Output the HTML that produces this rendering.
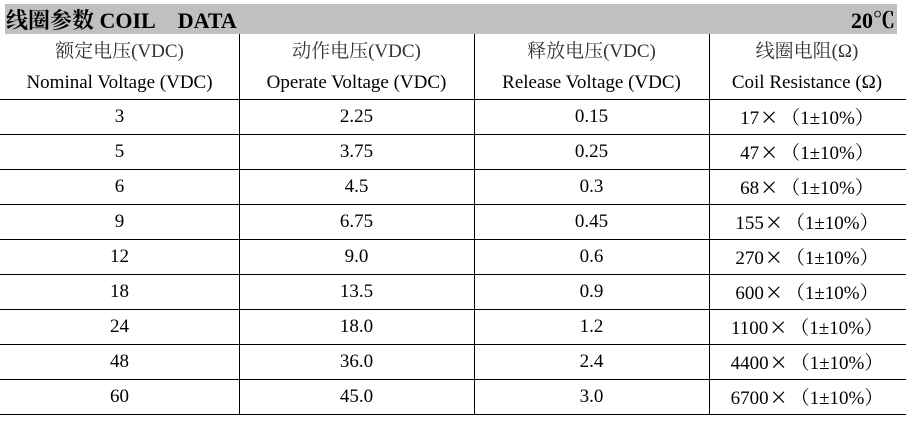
<!DOCTYPE html>
<html><head><meta charset="utf-8"><style>
body{margin:0;width:909px;height:424px;background:#fff;position:relative;overflow:hidden;font-family:"Liberation Serif","Noto Serif CJK SC",serif;color:#000}
.bar{position:absolute;left:5px;top:4px;width:892px;height:30px;background:#c0c0c0}
.t{position:absolute;font-weight:bold;font-size:22px;top:4px}
.h{position:absolute;height:1px;background:#000;left:0;width:906px}
.v{position:absolute;width:1px;background:#000;top:34px;height:380px}
.c{position:absolute;text-align:center;font-size:19px;line-height:20px}
.cn{color:#333}
.x{font-family:"Noto Sans CJK SC",sans-serif;font-size:18px;margin:0 3px 0 1px}
</style></head><body>
<div class="bar"></div>
<div class="t" style="left:6px">线圈参数 COIL&nbsp;&nbsp;&nbsp; DATA</div>
<div class="t" style="right:14px">20℃</div>
<div class="v" style="left:239px"></div>
<div class="v" style="left:474px"></div>
<div class="v" style="left:709px"></div>
<script>
const headersCn=["额定电压(VDC)","动作电压(VDC)","释放电压(VDC)","线圈电阻(Ω)"];
const headersEn=["Nominal Voltage (VDC)","Operate Voltage (VDC)","Release Voltage (VDC)","Coil Resistance (Ω)"];
const nominal=["3","5","6","9","12","18","24","48","60"];
const operate=["2.25","3.75","4.5","6.75","9.0","13.5","18.0","36.0","45.0"];
const release=["0.15","0.25","0.3","0.45","0.6","0.9","1.2","2.4","3.0"];
const resist=["17","47","68","155","270","600","1100","4400","6700"];
const colL=[0,239,474,709],colW=[239,235,235,196];
const root=document.body;
function cell(x,w,y,html,cls,name){const d=document.createElement('div');d.className='c '+(cls||'');d.style.left=x+'px';d.style.width=w+'px';d.style.top=y+'px';d.innerHTML=html;


root.appendChild(d);}
for(let i=0;i<4;i++){cell(colL[i],colW[i],42,headersCn[i],'cn','header-cn');cell(colL[i],colW[i],73,headersEn[i],'','header-en');}
const hl=document.createElement('div');hl.className='h';hl.style.top='99px';


root.appendChild(hl);
for(let r=0;r<nominal.length;r++){const y=99+r*35;
const vals=[nominal[r],operate[r],release[r],resist[r]+'<span class="x">×</span>（1±10%）'];
for(let i=0;i<4;i++)cell(colL[i],colW[i],y+8,vals[i],'','data-cell');
const l=document.createElement('div');l.className='h';l.style.top=(y+35)+'px';


root.appendChild(l);}
</script>
</body></html>
